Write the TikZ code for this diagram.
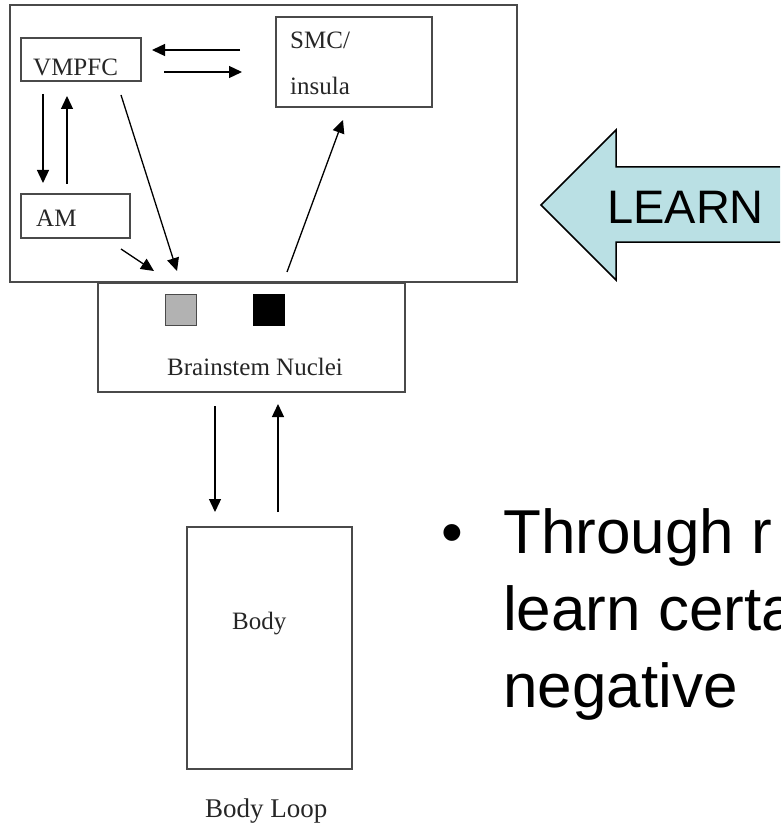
\documentclass[tikz,border=0pt]{standalone}
\usepackage{fontspec}
\setmainfont{Liberation Serif}
\newfontfamily\arialfont{Liberation Sans}
\usetikzlibrary{arrows.meta}
\definecolor{boxline}{HTML}{4A4A4A}
\definecolor{learnfill}{HTML}{BAE0E4}
\definecolor{diagtext}{HTML}{262626}
\begin{document}
\begin{tikzpicture}[x=1pt,y=-1pt,
  box/.style={draw=boxline,line width=1.6pt,rectangle,inner sep=0pt},
  lbl/.style={anchor=base west,inner sep=0pt,text=diagtext,font=\fontsize{25}{25}\selectfont},
  link/.style={-{Triangle[length=13pt,width=12pt]},line width=1.3pt,black,shorten >=0pt},
  slide/.style={anchor=base west,inner sep=0pt,font=\arialfont\fontsize{62}{62}\selectfont}]
\useasboundingbox (0,0) rectangle (780,826);
\clip (0,0) rectangle (780,826);

% boxes
\node[box,minimum width=507pt,minimum height=277pt] (brain) at (263.5,143.5) {};
\node[box,minimum width=120pt,minimum height=43pt] (vmpfc) at (81,59.5) {};
\node[box,minimum width=156pt,minimum height=90pt] (smc) at (354,62) {};
\node[box,minimum width=109pt,minimum height=44pt] (am) at (75.5,216) {};
\node[box,minimum width=307pt,minimum height=109pt,fill=white] (stem) at (251.5,337.5) {};
\node[box,minimum width=165pt,minimum height=242pt] (body) at (269.5,648) {};

% nuclei markers
\node[draw=boxline,line width=1pt,fill=black!30,minimum size=31pt,inner sep=0pt] (grey) at (181,309.5) {};
\node[draw=black,line width=1pt,fill=black,minimum size=31pt,inner sep=0pt] (dark) at (269,309.5) {};

% labels
\node[lbl] (tv) at (33,76) {VMPFC};
\node[lbl] (ts) at (290,49) {SMC/};
\node[lbl] (ti) at (290,95) {insula};
\node[lbl] (ta) at (36,226) {AM};
\node[lbl] (tb) at (167,375) {Brainstem Nuclei};
\node[lbl] (tby) at (232,629) {Body};
\node[lbl,font=\fontsize{27}{27}\selectfont] (tloop) at (205,817) {Body Loop};

% connector end points
\coordinate (sL) at (240,50);   \coordinate (vR) at (152,50);
\coordinate (vR2) at (164,72);  \coordinate (sL2) at (242,72);
\coordinate (vD) at (43,94);    \coordinate (aU) at (43,183);
\coordinate (aT) at (67,184);   \coordinate (vB) at (67,96);
\coordinate (vS) at (121,95);   \coordinate (bT1) at (177,271);
\coordinate (aS) at (121,249);  \coordinate (bT2) at (154,271);
\coordinate (bT3) at (287,272); \coordinate (sB) at (343,120);
\coordinate (bD) at (215,406);  \coordinate (yT) at (215,512);
\coordinate (yU) at (278,512);  \coordinate (bU) at (278,404);

\draw[link] (sL) -- (vR);
\draw[link] (vR2) -- (sL2);
\draw[link] (vD) -- (aU);
\draw[link] (aT) -- (vB);
\draw[link] (vS) -- (bT1);
\draw[link] (aS) -- (bT2);
\draw[link] (bT3) -- (sB);
\draw[link] (bD) -- (yT);
\draw[link] (yU) -- (bU);

% LEARN block arrow
\draw[fill=learnfill,line width=1.5pt,line join=miter]
  (541,205) -- (616,130) -- (616,167) -- (800,167) -- (800,242) -- (616,242) -- (616,280) -- cycle;
\node[anchor=base west,inner sep=0pt,font=\arialfont\fontsize{47}{47}\selectfont] (learn) at (607,223) {LEARN};

% bullet text
\node[slide] (bul) at (441,553) {•};
\node[slide] (l1) at (503,553) {Through r};
\node[slide] (l2) at (503,630) {learn certa};
\node[slide] (l3) at (503,707) {negative};
\end{tikzpicture}
\end{document}
